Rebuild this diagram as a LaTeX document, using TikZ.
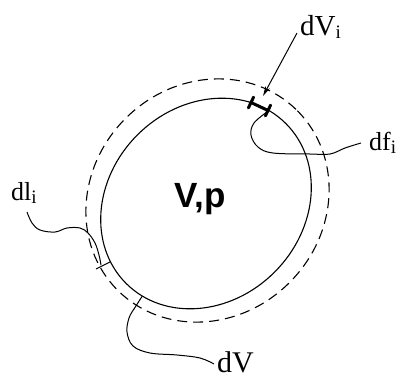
\documentclass[tikz,border=0pt]{standalone}
\usepackage{fontspec}
\setmainfont{Liberation Serif}
\newfontfamily\vpfont{Liberation Sans}
\usetikzlibrary{arrows.meta}
\newcommand\lsub[1]{\raisebox{-3pt}{\fontsize{19}{19}\selectfont #1}}
\begin{document}
\begin{tikzpicture}[x=1pt,y=-1pt,
  lbl/.style={inner sep=0pt, anchor=base west, font=\fontsize{29}{29}\selectfont},
  bnd/.style={line width=1.1pt},
  dsh/.style={line width=1.1pt, dash pattern=on 10pt off 6pt},
  lead/.style={line width=1pt},
  elem/.style={line width=3pt, line cap=round}]
\useasboundingbox (0,0) rectangle (405,378);
% inner boundary
\coordinate (ci) at (206,203.5);
\draw[bnd, rotate around={45:(ci)}] (ci) ellipse [x radius=113, y radius=97];
% outer dashed boundary
\coordinate (co) at (207.5,200.5);
\draw[dsh, rotate around={45:(co)}] (co) ellipse [x radius=127, y radius=116];
% labels
\node[lbl] (dVi) at (300,35) {dV\lsub{i}};
\node[lbl, font=\fontsize{26}{26}\selectfont] (dfi) at (369,150) {df\lsub{i}};
\node[lbl, font=\fontsize{26}{26}\selectfont] (dli) at (11,200) {dl\lsub{i}};
\node[lbl, font=\fontsize{30}{30}\selectfont] (dV) at (217,372) {dV};
\node[inner sep=0pt, anchor=base, font=\vpfont\bfseries\fontsize{35}{35}\selectfont] (Vp) at (200,207) {V,p};
% element at dV_i
\coordinate (e1) at (251,102.5);
\coordinate (e2) at (268,110.5);
\draw[elem] (e1) -- (e2);
\draw[elem] (253.6,97.1) -- (248.4,107.9);
\draw[elem] (270.6,105.1) -- (265.4,115.9);
% arrow dV_i
\coordinate (aS) at (297,33);
\coordinate (aT) at (263,96);
\draw[lead, -{Stealth[length=10pt,width=5pt]}] (aS) -- (aT);
% df_i leader
\coordinate (fS) at (267,112);
\coordinate (fE) at (361,143);
\draw[lead] plot[smooth, tension=0.6] coordinates {
 (fS) (254,123) (251,135) (258,147) (273,153) (310,154) (330,154) (345,148) (fE)};
% dl_i leader and tick
\coordinate (lS) at (27,212);
\coordinate (lE) at (101,265);
\draw[lead] plot[smooth, tension=0.6] coordinates {
 (lS) (32,223) (40,230) (55,232) (67,228) (80,228) (88,233) (95,243) (99,255) (lE)};
\coordinate (t1a) at (96,269);
\coordinate (t1b) at (110,262);
\draw[lead] (t1a) -- (t1b);
% dV leader and tick
\coordinate (t2a) at (134,309);
\coordinate (t2b) at (142,296.5);
\draw[lead] (t2a) -- (t2b);
\coordinate (vE) at (214,364);
\draw[lead] plot[smooth, tension=0.6] coordinates {
 (t2a) (129,318) (127,332) (133,346) (150,353) (177,355) (200,358) (vE)};
\end{tikzpicture}
\end{document}
